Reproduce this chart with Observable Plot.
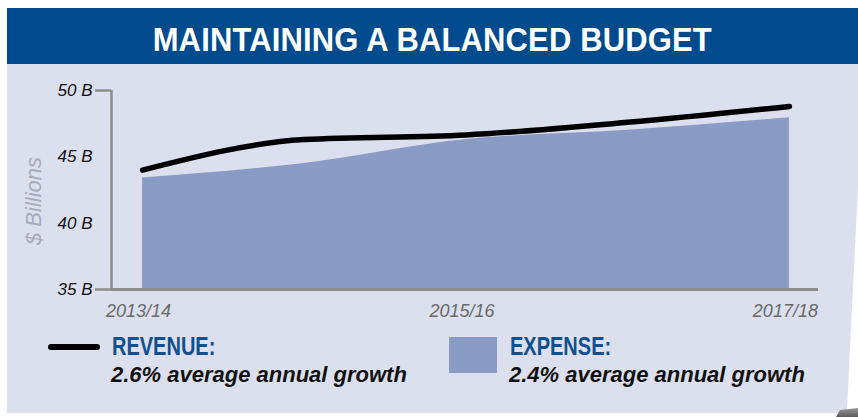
<!DOCTYPE html>
<html>
<head>
<meta charset="utf-8">
<script src="https://cdn.jsdelivr.net/npm/d3@7"></script>
<script src="https://cdn.jsdelivr.net/npm/@observablehq/plot@0.6"></script>
<style>
  html, body { margin: 0; padding: 0; background: #ffffff; }
  body { width: 858px; height: 417px; position: relative; overflow: hidden; font-family: "Liberation Sans", Arial, sans-serif; }
  #header { position: absolute; left: 7px; top: 8px; width: 851px; height: 56px; background: #004b8d; }
  #title { position: absolute; left: 7px; width: 851px; top: 22px; text-align: center; }
  #title span { display: inline-block; color: #ffffff; font-weight: bold; font-size: 34px; line-height: 34px; letter-spacing: 0.2px; transform: scaleX(0.91); transform-origin: center; white-space: nowrap; }
  #panel { position: absolute; left: 7px; top: 64px; width: 851px; height: 349px; background: #dcdfee; }
  #chart { position: absolute; left: 0; top: 64px; }
  .lg { position: absolute; white-space: nowrap; }
  .lg-head { color: #10508f; font-weight: bold; font-size: 25px; line-height: 25px; transform: scaleX(0.8); transform-origin: left center; }
  .lg-sub { color: #111111; font-weight: bold; font-style: italic; font-size: 22px; line-height: 22px; }
  #revLine { position: absolute; left: 48px; top: 344px; width: 52px; height: 6px; background: #000; border-radius: 3px; }
  #expSwatch { position: absolute; left: 449px; top: 337px; width: 48px; height: 36px; background: #8a9bc6; }
  #curl { position: absolute; left: 0; top: 0; }
  #chart text { font-family: "Liberation Sans", Arial, sans-serif; }
  #chart g[aria-label="y-axis tick label"] text { font-style: italic; }
  #chart g[aria-label="x-axis tick label"] text { font-style: italic; }
</style>
</head>
<body>
<div id="header"></div>
<div id="title"><span>MAINTAINING A BALANCED BUDGET</span></div>
<div id="panel"></div>
<div id="chart"></div>
<div id="revLine"></div>
<div class="lg lg-head" style="left:112px; top:334px;">REVENUE:</div>
<div class="lg lg-sub" style="left:111px; top:364px;">2.6% average annual growth</div>
<div id="expSwatch"></div>
<div class="lg lg-head" style="left:510px; top:334px;">EXPENSE:</div>
<div class="lg lg-sub" style="left:509px; top:364px;">2.4% average annual growth</div>
<svg id="curl" width="858" height="417">
  <defs>
    <linearGradient id="sh" x1="0" y1="0" x2="0" y2="1">
      <stop offset="0" stop-color="#9a9a9a"/>
      <stop offset="1" stop-color="#5a5a5a"/>
    </linearGradient>
  </defs>
  <polygon points="858,187 847,410 858,410" fill="#ffffff"/>
  <polygon points="840,410 858,408 858,417 836,417" fill="url(#sh)"/>
</svg>
<script>
// ---- data ----
const years = ["2013/14", "2014/15", "2015/16", "2016/17", "2017/18"];
const revenue = [44.0, 46.3, 46.65, 47.6, 48.8];   // $ billions
const expense = [43.4, 44.5, 46.3, 47.0, 47.95];   // $ billions
const yTicks = [35, 40, 45, 50];
const yEndTicks = [35, 50];
const xTickIdx = [0, 2, 4];

const data = years.map((year, i) => ({i, year, revenue: revenue[i], expense: expense[i]}));

const xDomain = [-0.192, 4.18];
const yDomain = [35, 50];
const axisGray = "#8c8c8c";

const chart = Plot.plot({
  width: 858,
  height: 262,
  marginLeft: 111,
  marginRight: 40,
  marginTop: 26,
  marginBottom: 37,
  style: {background: "transparent", fontFamily: "Liberation Sans, Arial, sans-serif", overflow: "visible"},
  x: {type: "linear", domain: xDomain},
  y: {type: "linear", domain: yDomain},
  marks: [
    Plot.areaY(data, {x: "i", y1: yDomain[0], y2: "expense", fill: "#8a9bc6", curve: "monotone-x"}),
    Plot.line(data, {x: "i", y: "revenue", stroke: "#000000", strokeWidth: 5.5, strokeLinecap: "round", strokeLinejoin: "round", curve: "monotone-x"}),
    Plot.ruleX([xDomain[0]], {stroke: axisGray, strokeWidth: 2.5}),
    Plot.ruleY([yDomain[0]], {stroke: axisGray, strokeWidth: 3}),
    Plot.axisY({ticks: yEndTicks, tickSize: 16, stroke: axisGray, strokeWidth: 2.5, fill: "none", label: null}),
    Plot.axisY({ticks: yTicks, tickSize: 0, tickPadding: 19, tickFormat: d => `${d} B`, fontSize: 17, fill: "#111111", label: null}),
    Plot.axisX({ticks: xTickIdx, tickSize: 0, tickPadding: 15, tickFormat: i => years[i], fontSize: 18, fill: "#6a6a6a", label: null, dx: -4}),
    Plot.text(["$ Billions"], {frameAnchor: "left", rotate: -90, lineAnchor: "top", textAnchor: "middle", dx: -86, dy: 11, fontSize: 22, fill: "#a9abba", fontStyle: "italic", text: d => d, letterSpacing: 1})
  ]
});
document.getElementById("chart").appendChild(chart);
</script>
</body>
</html>
